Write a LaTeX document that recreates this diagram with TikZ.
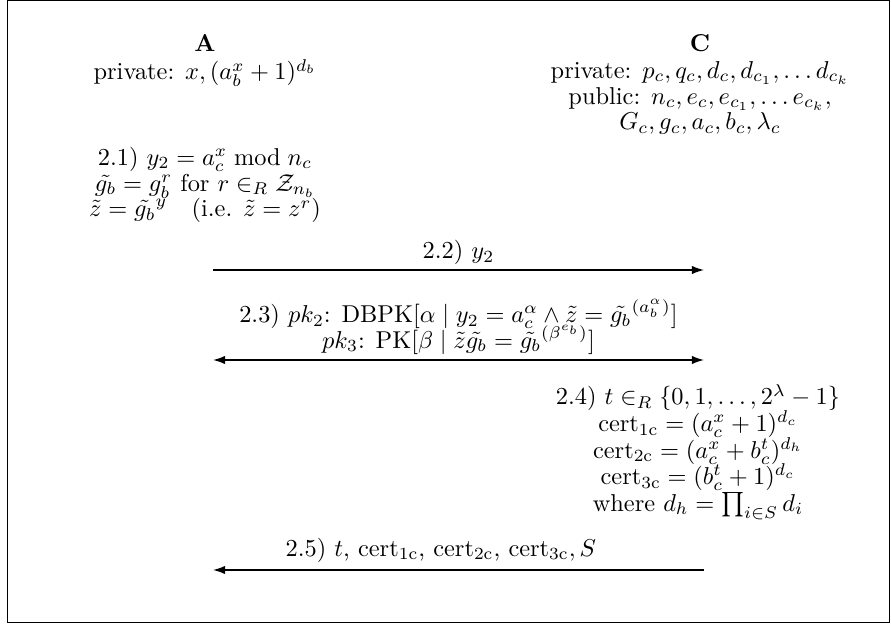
\documentclass[tikz,border=0pt]{standalone}
\usepackage{amsmath,amssymb}
\usepackage{tikz}
\usetikzlibrary{arrows.meta,positioning}

\newcommand{\protofont}{\fontsize{10pt}{10.6pt}\selectfont\lineskiplimit=-\maxdimen}
\newcommand{\certfont}{\fontsize{10pt}{10.9pt}\selectfont\lineskiplimit=-\maxdimen}

\tikzset{
  msg/.style={semithick, -{Latex[length=5pt,width=3.5pt]}},
  twoway/.style={semithick, {Latex[length=5pt,width=3.5pt]}-{Latex[length=5pt,width=3.5pt]}},
  stepbox/.style={align=center, inner sep=1pt},
  every node/.style={font=\protofont},
}

\begin{document}
\begin{tikzpicture}[x=0.41pt, y=-0.41pt]
    % frame of the picture
    \useasboundingbox (0,0) rectangle (891,627);
    \draw[thin] (7,0.5) rectangle (889,622.5);

    % parties
    \node (A) at (205,43) {\textbf{A}};
    \node (Apriv) at (205,73) {private: $x, (a_b^x + 1)^{d_b}$};
    \node (C) at (700,43) {\textbf{C}};
    \node[stepbox] (Cinfo) at (700,98) {private: $p_c, q_c, d_c, d_{c_1}, \dots d_{c_k}$\\
        public: $n_c, e_c, e_{c_1}, \dots e_{c_k},$\\
        $G_c, g_c, a_c, b_c, \lambda_c$};

    % 2.1 on the side of A
    \node[stepbox] (s21) at (205,185) {2.1) $y_2 = a_c^x \bmod n_c$\\
        $\tilde{g_b} = g_b^r$ for $r \in_R \mathcal{Z}_{n_b}$\\
        $\tilde{z} = \tilde{g_b}^y \quad (\text{i.e. } \tilde{z} = z^r)$};

    % ends of the messages
    \coordinate (A2) at (213,270);
    \coordinate (C2) at (704,270);
    \coordinate (A3) at (213,360);
    \coordinate (C3) at (704,360);
    \coordinate (A5) at (213,570);
    \coordinate (C5) at (704,570);

    % 2.2
    \draw[msg] (A2) -- node[above=-1.5pt] (m22) {2.2) $y_2$} (C2);

    % 2.3
    \draw[twoway] (A3) -- node[above=1pt, stepbox] (m23)
        {2.3) $pk_2$: DBPK$[\alpha \mid y_2 = a_c^\alpha \wedge \tilde{z} = \tilde{g_b}^{(a_b^\alpha)}]$\\
         $pk_3$: PK$[\beta \mid \tilde{z}\tilde{g_b} = \tilde{g_b}^{(\beta^{e_b})}]$} (C3);

    % 2.4 on the side of C
    \node[stepbox, font=\certfont] (s24) at (698,452) {2.4) $t \in_R \{0, 1, \dots, 2^\lambda - 1\}$\\
        $\text{cert}_\text{1c} = (a_c^x + 1)^{d_c}$\\
        $\text{cert}_\text{2c} = (a_c^x + b_c^t)^{d_h}$\\
        $\text{cert}_\text{3c} = (b_c^t + 1)^{d_c}$\\
        where $d_h = \prod_{i \in S} d_i$};

    % 2.5
    \draw[msg] (C5) -- node[above=-0.5pt, pos=0.536] (m25)
        {2.5) $t$, $\text{cert}_\text{1c}$, $\text{cert}_\text{2c}$, $\text{cert}_\text{3c}, S$} (A5);
\end{tikzpicture}
\end{document}
